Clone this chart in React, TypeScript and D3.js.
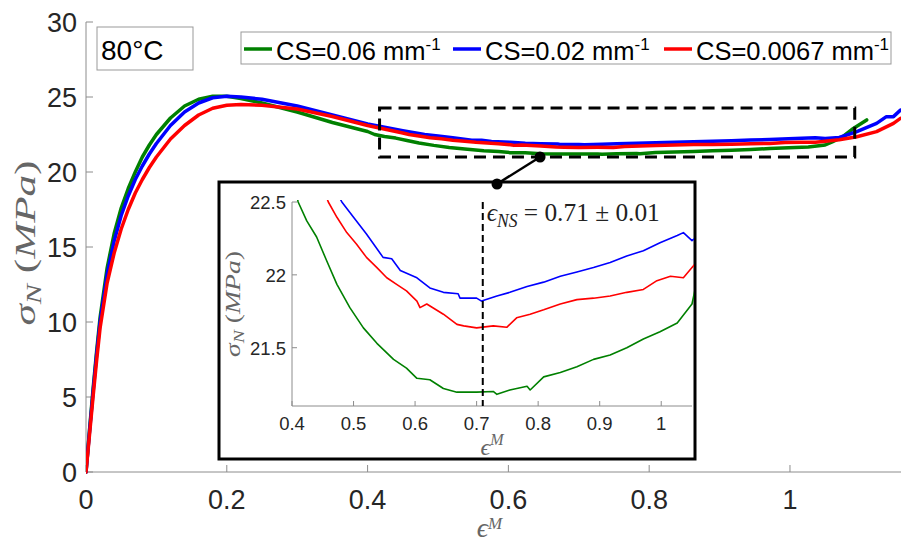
import React from 'react';
import * as d3 from 'd3';

const W = 901;
const H = 545;

// ---- tick values ----
const mainXTicks = [0, 0.2, 0.4, 0.6, 0.8, 1];
const mainYTicks = [0, 5, 10, 15, 20, 25, 30];
const insetXTicks = [0.4, 0.5, 0.6, 0.7, 0.8, 0.9, 1];
const insetYTicks = [21.5, 22, 22.5];

// ---- series meta ----
const seriesLabels = ['CS=0.06 mm', 'CS=0.02 mm', 'CS=0.0067 mm'];
const seriesColors = ['#008000', '#0000ff', '#ff0000'];
const temperatureLabel = '80°C';
const neckingValue = 0.71;
const neckingText = '= 0.71 ± 0.01';

// ---- green: CS = 0.06 mm^-1 ----
const greenRise: [number, number][] = [
  [0, 0], [0.005, 2.8], [0.01, 5.5], [0.015, 8], [0.02, 10.3], [0.03, 13.6], [0.04, 15.9],
  [0.05, 17.6], [0.06, 18.9], [0.07, 20.0], [0.08, 21.0], [0.09, 21.8], [0.1, 22.5],
  [0.12, 23.6], [0.14, 24.4], [0.16, 24.85], [0.18, 25.05], [0.2, 25.05], [0.22, 24.9],
  [0.25, 24.6], [0.3, 24.0], [0.35, 23.3], [0.4, 22.7],
];
const greenPlateau: [number, number][] = [
  [0.41, 22.5], [0.424, 22.37], [0.44, 22.26], [0.456, 22.1], [0.473, 21.935], [0.494, 21.775],
  [0.516, 21.636], [0.538, 21.53], [0.565, 21.42], [0.586, 21.36], [0.603, 21.29], [0.624, 21.28],
  [0.646, 21.22], [0.668, 21.195], [0.7, 21.195], [0.727, 21.2], [0.733, 21.18], [0.754, 21.21],
  [0.782, 21.235], [0.787, 21.21], [0.809, 21.3], [0.836, 21.33], [0.863, 21.37], [0.89, 21.42],
  [0.917, 21.45], [0.944, 21.5], [0.971, 21.56], [0.998, 21.61], [1.026, 21.67], [1.05, 21.8],
];
const greenEnd: [number, number][] = [
  [1.06, 22.0], [1.075, 22.35], [1.09, 22.9], [1.109, 23.47],
];

// ---- blue: CS = 0.02 mm^-1 ----
const blueRise: [number, number][] = [
  [0, 0], [0.005, 2.7], [0.01, 5.3], [0.015, 7.8], [0.02, 10.0], [0.03, 13.2], [0.04, 15.4],
  [0.05, 17.1], [0.06, 18.4], [0.07, 19.5], [0.08, 20.4], [0.09, 21.2], [0.1, 21.9],
  [0.12, 23.1], [0.14, 24.0], [0.16, 24.6], [0.18, 24.95], [0.2, 25.05], [0.22, 25.0],
  [0.25, 24.85], [0.3, 24.4], [0.35, 23.8], [0.4, 23.2], [0.45, 22.75],
];
const bluePlateau: [number, number][] = [
  [0.481, 22.5], [0.5, 22.395], [0.521, 22.28], [0.548, 22.12], [0.562, 22.11], [0.576, 22.03],
  [0.603, 21.98], [0.624, 21.91], [0.646, 21.88], [0.67, 21.87], [0.673, 21.84], [0.7, 21.84],
  [0.708, 21.82], [0.733, 21.855], [0.754, 21.88], [0.782, 21.92], [0.809, 21.95], [0.836, 21.99],
  [0.863, 22.02], [0.89, 22.05], [0.917, 22.085], [0.944, 22.13], [0.971, 22.165], [0.998, 22.22],
  [1.026, 22.27], [1.036, 22.29], [1.05, 22.235],
];
const blueEnd: [number, number][] = [
  [1.07, 22.3], [1.095, 22.69], [1.123, 23.24], [1.137, 23.69], [1.147, 23.69], [1.157, 24.13],
];

// ---- red: CS = 0.0067 mm^-1 ----
const redRise: [number, number][] = [
  [0, 0], [0.005, 2.5], [0.01, 5.0], [0.015, 7.4], [0.02, 9.6], [0.03, 12.6], [0.04, 14.6],
  [0.05, 16.2], [0.06, 17.5], [0.07, 18.6], [0.08, 19.5], [0.09, 20.3], [0.1, 21.0],
  [0.12, 22.2], [0.14, 23.1], [0.16, 23.8], [0.18, 24.25], [0.2, 24.45], [0.22, 24.5],
  [0.25, 24.45], [0.3, 24.2], [0.35, 23.7], [0.4, 23.1], [0.45, 22.6],
];
const redPlateau: [number, number][] = [
  [0.459, 22.5], [0.473, 22.395], [0.489, 22.29], [0.505, 22.21], [0.521, 22.12], [0.538, 22.05],
  [0.554, 21.98], [0.57, 21.935], [0.586, 21.89], [0.603, 21.82], [0.608, 21.775], [0.619, 21.8],
  [0.646, 21.73], [0.668, 21.66], [0.679, 21.65], [0.7, 21.636], [0.727, 21.65], [0.749, 21.64],
  [0.765, 21.705], [0.787, 21.73], [0.809, 21.76], [0.836, 21.8], [0.863, 21.83], [0.89, 21.84],
  [0.917, 21.855], [0.944, 21.88], [0.971, 21.9], [0.993, 21.96], [1.015, 21.99], [1.036, 21.98],
  [1.05, 22.05],
];
const redEnd: [number, number][] = [
  [1.07, 22.15], [1.095, 22.35], [1.123, 22.69], [1.147, 23.24], [1.157, 23.58],
];

// ---- zoom-window annotation (data coords of main axes) ----
const zoomBoxX = [0.417, 1.092];
const zoomBoxY = [21.0, 24.27];
const connectorAnchor: [number, number] = [0.645, 21.0];

const series = [
  [...greenRise, ...greenPlateau, ...greenEnd],
  [...blueRise, ...bluePlateau, ...blueEnd],
  [...redRise, ...redPlateau, ...redEnd],
];

const TICK_COLOR = '#262626';
const AXIS_COLOR = '#8c8c8c';
const LABEL_COLOR = '#666';
const SANS = '"Liberation Sans", Arial, Helvetica, sans-serif';
const SERIF = '"Liberation Serif", "DejaVu Serif", "Times New Roman", serif';

export default function App() {
  // main axes
  const x = d3.scaleLinear().domain([0, 1.157]).range([86, 900.5]);
  const y = d3.scaleLinear().domain([0, 30]).range([472, 22]);
  // inset axes
  const xi = d3.scaleLinear().domain([0.4, 1.05]).range([292, 692]);
  const yi = d3.scaleLinear().domain([21.1, 22.5]).range([406, 202]);

  const mainLine = d3.line<[number, number]>().x((d) => x(d[0])).y((d) => y(d[1]));
  const insetLine = d3.line<[number, number]>().x((d) => xi(d[0])).y((d) => yi(d[1]));
  const fmt = d3.format('~g');

  const [x0] = x.range();
  const [y0, y1] = y.range();
  const [ix0, ix1] = xi.range();
  const [iy0, iy1] = yi.range();

  // inset frame (layout)
  const frame = { left: 219, top: 182, right: 695, bottom: 459 };
  const dot2: [number, number] = [497, frame.top + 2];

  const legendStarts = [244, 453, 664];

  return (
    <svg
      width={W}
      height={H}
      viewBox={`0 0 ${W} ${H}`}
      style={{ position: 'absolute', left: 0, top: 0, background: '#fff' }}
    >
      <defs>
        <clipPath id="mainClip">
          <rect x={x0} y={y1 - 5} width={W - x0} height={y0 - y1 + 10} />
        </clipPath>
        <clipPath id="insetClip">
          <rect x={ix0} y={iy1 - 2} width={ix1 - ix0 + 2} height={iy0 - iy1 + 2} />
        </clipPath>
      </defs>
      <rect x={0} y={0} width={W} height={H} fill="#fff" />

      {/* main axes */}
      <line x1={x0} x2={W} y1={y0} y2={y0} stroke={AXIS_COLOR} strokeWidth={1} />
      <line x1={x0} x2={x0} y1={y0} y2={y1} stroke={AXIS_COLOR} strokeWidth={1} />
      {mainXTicks.map((t) => (
        <g key={'mx' + t}>
          <line x1={x(t)} x2={x(t)} y1={y0} y2={y0 - 7} stroke={AXIS_COLOR} />
          <text x={x(t)} y={509} textAnchor="middle" fontFamily={SANS} fontSize={27} fill={TICK_COLOR}>
            {fmt(t)}
          </text>
        </g>
      ))}
      {mainYTicks.map((t) => (
        <g key={'my' + t}>
          <line x1={x0} x2={x0 + 7} y1={y(t)} y2={y(t)} stroke={AXIS_COLOR} />
          <text x={77} y={y(t) + 10} textAnchor="end" fontFamily={SANS} fontSize={27} fill={TICK_COLOR}>
            {fmt(t)}
          </text>
        </g>
      ))}

      {/* main axis labels */}
      <text x={(x0 + W) / 2 - 4} y={537} textAnchor="middle" fontFamily={SERIF} fontSize={28} fill={LABEL_COLOR}>
        <tspan fontStyle="italic">ϵ</tspan>
        <tspan fontStyle="italic" fontSize={17} dy={-8}>M</tspan>
      </text>
      <text
        transform={`translate(35,${(y0 + y1) / 2 - 4}) rotate(-90)`}
        textAnchor="middle"
        fontFamily={SERIF}
        fontSize={30}
        fill={LABEL_COLOR}
        textLength={165}
        lengthAdjust="spacingAndGlyphs"
      >
        <tspan fontStyle="italic">σ</tspan>
        <tspan fontStyle="italic" fontSize={21} dy={6}>N</tspan>
        <tspan dy={-6}>{' ('}</tspan>
        <tspan fontStyle="italic">MPa</tspan>
        <tspan>)</tspan>
      </text>

      {/* main curves */}
      <g clipPath="url(#mainClip)">
        {series.map((s, i) => (
          <path key={'m' + i} d={mainLine(s) || ''} fill="none" stroke={seriesColors[i]} strokeWidth={3.5}
            strokeLinejoin="round" strokeLinecap="round" />
        ))}
      </g>

      {/* zoom window */}
      <rect
        x={x(zoomBoxX[0])}
        y={y(zoomBoxY[1])}
        width={x(zoomBoxX[1]) - x(zoomBoxX[0])}
        height={y(zoomBoxY[0]) - y(zoomBoxY[1])}
        fill="none"
        stroke="#000"
        strokeWidth={3}
        strokeDasharray="12 7"
      />

      {/* temperature box */}
      <rect x={97} y={27} width={96} height={43} fill="#fff" stroke="#999" strokeWidth={1} />
      <text x={101} y={60} fontFamily={SANS} fontSize={28} fill="#000">{temperatureLabel}</text>

      {/* legend */}
      <rect x={241} y={32} width={650} height={32} fill="#fff" stroke="#999" strokeWidth={1} />
      {seriesLabels.map((lab, i) => (
        <g key={'lg' + i}>
          <line x1={legendStarts[i]} x2={legendStarts[i] + 28} y1={49} y2={49} stroke={seriesColors[i]} strokeWidth={3.5} />
          <text x={legendStarts[i] + 32} y={60} fontFamily={SANS} fontSize={25.5} fill="#000">
            {lab}
            <tspan fontSize={17} dy={-10}>-1</tspan>
          </text>
        </g>
      ))}

      {/* inset frame */}
      <rect
        x={frame.left}
        y={frame.top}
        width={frame.right - frame.left}
        height={frame.bottom - frame.top}
        fill="#fff"
        stroke="#000"
        strokeWidth={3}
      />

      {/* connector */}
      <line x1={x(connectorAnchor[0])} y1={y(connectorAnchor[1])} x2={dot2[0]} y2={dot2[1]} stroke="#000" strokeWidth={2.5} />
      <circle cx={x(connectorAnchor[0])} cy={y(connectorAnchor[1])} r={5.5} fill="#000" />
      <circle cx={dot2[0]} cy={dot2[1]} r={5.5} fill="#000" />

      {/* inset axes */}
      <line x1={ix0} x2={ix1} y1={iy0} y2={iy0} stroke={AXIS_COLOR} strokeWidth={1} />
      <line x1={ix0} x2={ix0} y1={iy0} y2={iy1} stroke={AXIS_COLOR} strokeWidth={1} />
      {insetXTicks.map((t) => (
        <g key={'ix' + t}>
          <line x1={xi(t)} x2={xi(t)} y1={iy0} y2={iy0 - 5} stroke={AXIS_COLOR} />
          <text x={xi(t)} y={430} textAnchor="middle" fontFamily={SANS} fontSize={18.5} fill={TICK_COLOR}>
            {fmt(t)}
          </text>
        </g>
      ))}
      {insetYTicks.map((t) => (
        <g key={'iy' + t}>
          <line x1={ix0} x2={ix0 + 5} y1={yi(t)} y2={yi(t)} stroke={AXIS_COLOR} />
          <text x={286} y={yi(t) + 7} textAnchor="end" fontFamily={SANS} fontSize={18.5} fill={TICK_COLOR}>
            {fmt(t)}
          </text>
        </g>
      ))}
      <text x={(ix0 + ix1) / 2} y={455} textAnchor="middle" fontFamily={SERIF} fontSize={24} fill={LABEL_COLOR}>
        <tspan fontStyle="italic">ϵ</tspan>
        <tspan fontStyle="italic" fontSize={16} dy={-10}>M</tspan>
      </text>
      <text
        transform={`translate(240,${(iy0 + iy1) / 2}) rotate(-90)`}
        textAnchor="middle"
        fontFamily={SERIF}
        fontSize={21}
        fill={LABEL_COLOR}
        textLength={106}
        lengthAdjust="spacingAndGlyphs"
      >
        <tspan fontStyle="italic">σ</tspan>
        <tspan fontStyle="italic" fontSize={15} dy={4}>N</tspan>
        <tspan dy={-4}>{' ('}</tspan>
        <tspan fontStyle="italic">MPa</tspan>
        <tspan>)</tspan>
      </text>

      {/* inset curves */}
      <g clipPath="url(#insetClip)">
        {series.map((s, i) => (
          <path key={'i' + i} d={insetLine(s) || ''} fill="none" stroke={seriesColors[i]} strokeWidth={1.6}
            strokeLinejoin="round" />
        ))}
      </g>

      {/* necking strain marker */}
      <line
        x1={xi(neckingValue)}
        x2={xi(neckingValue)}
        y1={iy1}
        y2={iy0}
        stroke="#000"
        strokeWidth={2}
        strokeDasharray="7 4"
      />
      <text
        x={xi(neckingValue) + 4}
        y={221}
        fontFamily={SERIF}
        fontSize={26}
        fill="#222"
        textLength={173}
        lengthAdjust="spacingAndGlyphs"
      >
        <tspan fontStyle="italic">ϵ</tspan>
        <tspan fontStyle="italic" fontSize={18} dy={6}>NS</tspan>
        <tspan dy={-6}>{' ' + neckingText}</tspan>
      </text>
    </svg>
  );
}
